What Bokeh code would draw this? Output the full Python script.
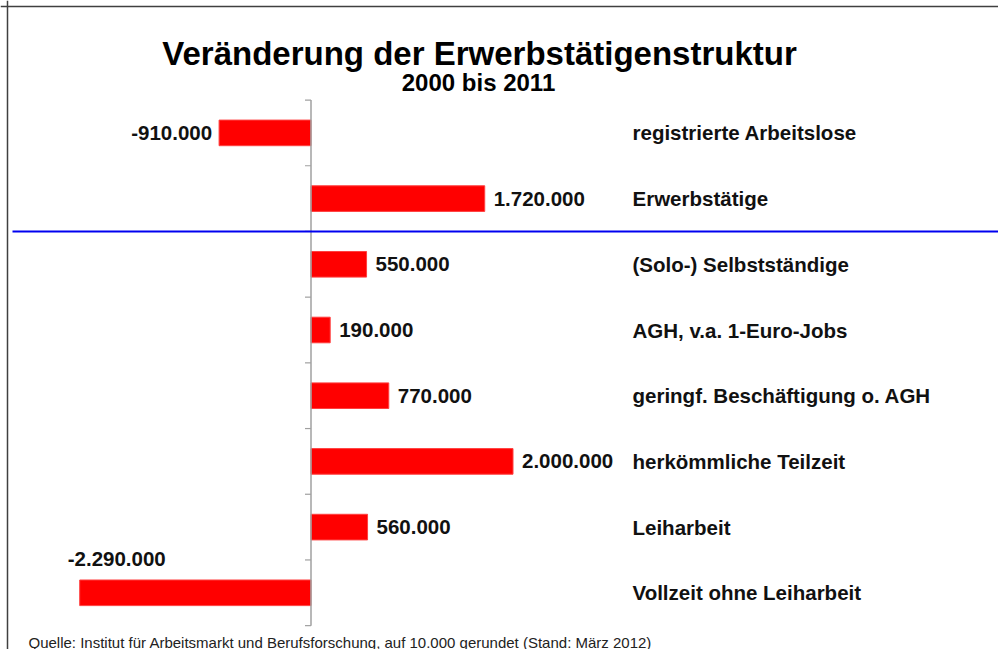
from bokeh.plotting import figure
from bokeh.models import Range1d, Span
from bokeh.core.properties import value
from bokeh.embed import file_html
from bokeh.resources import INLINE

# ---- data ----
categories = [
    "registrierte Arbeitslose",
    "Erwerbstätige",
    "(Solo-) Selbstständige",
    "AGH, v.a. 1-Euro-Jobs",
    "geringf. Beschäftigung o. AGH",
    "herkömmliche Teilzeit",
    "Leiharbeit",
    "Vollzeit ohne Leiharbeit",
]
changes = [-910000, 1720000, 550000, 190000, 770000, 2000000, 560000, -2290000]
rows_above_separator = 2
title_text = "Veränderung der Erwerbstätigenstruktur"
subtitle_text = "2000 bis 2011"
source_text = ("Quelle: Institut für Arbeitsmarkt und Berufsforschung,  auf 10.000 "
               "gerundet (Stand: März 2012)")

# ---- layout ----
W, H = 998, 649
PX_PER_UNIT = 101 / 1e6
ZERO_PX = 310.5
BAND = 65.7
ROW0 = 132.4

x_start = -ZERO_PX / PX_PER_UNIT
x_end = (W - ZERO_PX) / PX_PER_UNIT
y_top = -ROW0 / BAND
y_bottom = (H - ROW0) / BAND


def xd(px):
    return (px - ZERO_PX) / PX_PER_UNIT


def yd(px):
    return (px - ROW0) / BAND


FONT = value("Liberation Sans")

p = figure(width=W, height=H,
           x_range=Range1d(x_start, x_end), y_range=Range1d(y_bottom, y_top),
           output_backend="svg", toolbar_location=None,
           x_axis_location=None, y_axis_location=None,
           min_border=0, outline_line_color=None,
           background_fill_color="white", border_fill_color="white")
p.grid.visible = False

n = len(categories)
idx = list(range(n))

# bars
p.hbar(y=idx, left=0, right=changes, height=0.39,
       fill_color="#ff0000", line_color="#ff4040", line_width=1)

# zero axis with ticks at band boundaries
bounds = [i - 0.5 for i in range(n + 1)]
p.segment(x0=[0], y0=[bounds[0]], x1=[0], y1=[bounds[-1]],
          line_color="#a0a0a0", line_width=1.5)
p.segment(x0=[0] * len(bounds), y0=bounds, x1=[-6 / PX_PER_UNIT] * len(bounds), y1=bounds,
          line_color="#a0a0a0", line_width=1.2)

# separator
sep_y = rows_above_separator - 0.5
p.segment(x0=[xd(12)], y0=[sep_y], x1=[x_end], y1=[sep_y],
          line_color="#0000f0", line_width=2)

# frame lines (top / left)
p.add_layout(Span(location=xd(7), dimension="height", line_color="#404040", line_width=1.5))
p.add_layout(Span(location=yd(6), dimension="width", line_color="#404040", line_width=1.5))

# value labels
def fmt(v):
    return f"{v:,}".replace(",", ".")

labels = [fmt(v) for v in changes]
pos_i = [i for i, v in enumerate(changes) if v >= 0]
neg_side = [i for i, v in enumerate(changes) if v < 0 and v > -2e6]
neg_above = [i for i, v in enumerate(changes) if v <= -2e6]

common = dict(text_font=FONT, text_font_style="bold", text_font_size="20.5px",
              text_color="#111111", text_baseline="middle")
p.text(x=[changes[i] for i in pos_i], y=pos_i, text=[labels[i] for i in pos_i],
       x_offset=9, text_align="left", **common)
p.text(x=[changes[i] for i in neg_side], y=neg_side, text=[labels[i] for i in neg_side],
       x_offset=-7, text_align="right", **common)
p.text(x=[changes[i] for i in neg_above], y=neg_above, text=[labels[i] for i in neg_above],
       x_offset=-12, y_offset=-34, text_align="left", **common)

# category labels
p.text(x=[xd(632)] * n, y=idx, text=categories, text_align="left", **common)

# titles
p.text(x=[xd(479)], y=[yd(52.5)], text=[title_text], text_align="center",
       text_baseline="alphabetic", text_font=FONT, text_font_style="bold",
       text_font_size="33px", text_color="#000000")
p.text(x=[xd(478)], y=[yd(82)], text=[subtitle_text], text_align="center",
       text_baseline="alphabetic", text_font=FONT, text_font_style="bold",
       text_font_size="24px", text_color="#000000")

# source
p.text(x=[xd(28)], y=[yd(641.5)], text=[source_text], text_align="left",
       text_baseline="alphabetic", text_font=FONT,
       text_font_size="15px", text_color="#222222")

open("out.html", "w").write(file_html(p, INLINE))
